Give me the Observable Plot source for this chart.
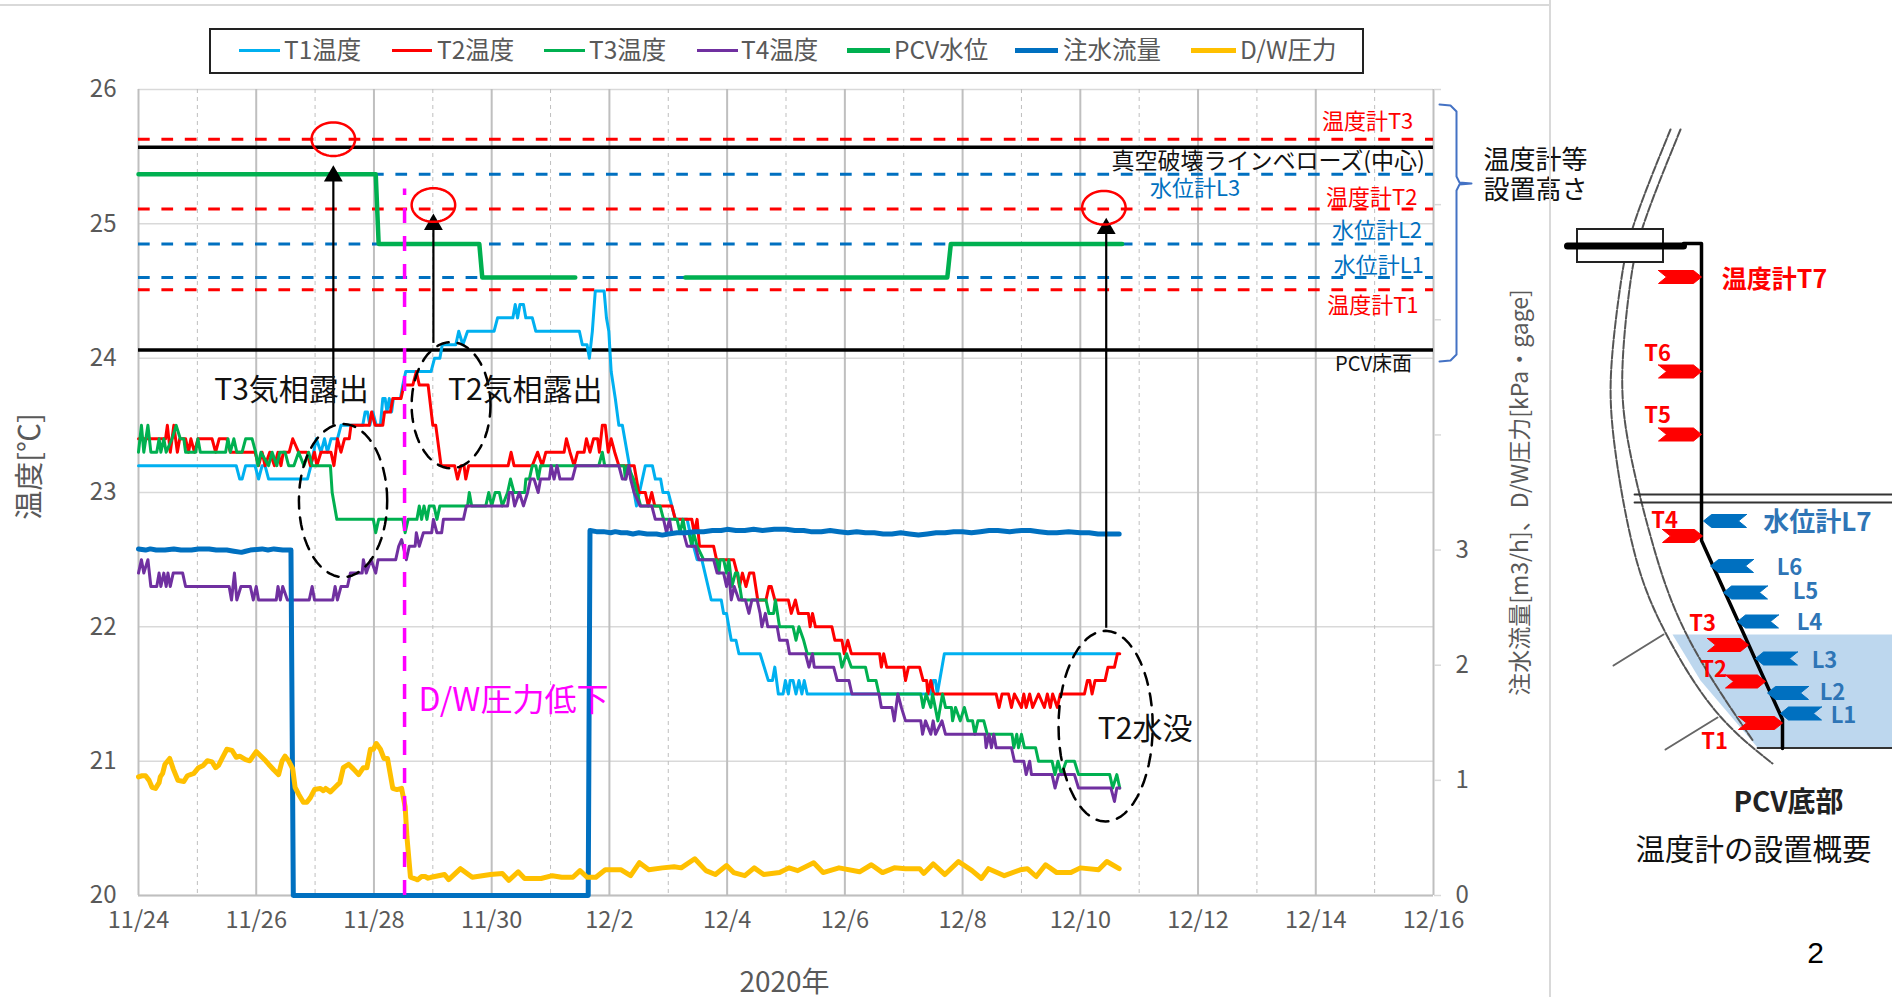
<!DOCTYPE html>
<html lang="ja"><head><meta charset="utf-8">
<script src="https://cdn.jsdelivr.net/npm/d3@7"></script>
<script src="https://cdn.jsdelivr.net/npm/@observablehq/plot@0.6"></script>
<style>
html,body{margin:0;padding:0;background:#fff;overflow:hidden}
#wrap{position:relative;width:1892px;height:997px;font-family:"Noto Sans CJK JP","Noto Sans",sans-serif}
#wrap>svg{position:absolute;left:0;top:0}
.frame{position:absolute;background:#d9d9d9}
#legend{position:absolute;left:209px;top:28px;width:1151px;height:42px;border:2px solid #222;background:#fff}
#legend span{position:absolute;top:0;line-height:38px;font-size:24.5px;color:#595959;white-space:nowrap}
#legend i{position:absolute;display:block}
</style></head><body><div id="wrap"></div>
<script>
const xLabels=["11/24","11/26","11/28","11/30","12/2","12/4","12/6","12/8","12/10","12/12","12/14","12/16"];
// Day offsets since 11/24, temperature in degC
const t1=[[0,23.2],[1.66,23.2],[1.72,23.1],[1.76,23.1],[1.82,23.2],[1.98,23.2],[2.04,23.1],[2.1,23.2],[2.15,23.2],[2.21,23.1],[2.87,23.1],[2.93,23.2],[3.02,23.4],[3.1,23.3],[3.16,23.4],[3.21,23.3],[3.27,23.4],[3.38,23.4],[3.44,23.5],[3.81,23.5],[3.85,23.6],[3.89,23.6],[3.93,23.5],[3.98,23.6],[4.04,23.5],[4.11,23.5],[4.15,23.7],[4.19,23.7],[4.22,23.6],[4.26,23.7],[4.3,23.6],[4.33,23.7],[4.45,23.7],[4.49,23.8],[4.54,23.9],[4.97,23.9],[5.03,24],[5.12,24],[5.16,24.1],[5.39,24.1],[5.44,24.2],[5.51,24.1],[5.59,24.2],[6.04,24.2],[6.1,24.3],[6.36,24.3],[6.4,24.4],[6.44,24.3],[6.48,24.4],[6.54,24.4],[6.58,24.3],[6.69,24.3],[6.75,24.2],[7.49,24.2],[7.54,24.1],[7.62,24.1],[7.66,24],[7.71,24.2],[7.76,24.5],[7.91,24.5],[7.95,24.3],[7.99,24.2],[8.03,23.9],[8.1,23.7],[8.16,23.5],[8.22,23.5],[8.46,22.9],[8.61,23.2],[8.73,23.2],[8.78,23.1],[8.87,23.1],[8.91,23],[9,23],[9.12,22.8],[9.32,22.8],[9.37,22.7],[9.49,22.5],[9.57,22.5],[9.73,22.2],[9.9,22.2],[9.94,22.1],[9.99,22.1],[10.07,21.9],[10.15,21.9],[10.2,21.8],[10.56,21.8],[10.63,21.7],[10.7,21.6],[10.77,21.6],[10.81,21.7],[10.87,21.5],[10.95,21.5],[10.99,21.6],[11.04,21.5],[11.07,21.6],[11.12,21.6],[11.17,21.5],[11.22,21.6],[11.27,21.5],[11.31,21.6],[11.36,21.5],[13.46,21.5],[13.5,21.6],[13.54,21.6],[13.57,21.5],[13.69,21.8],[16.61,21.8]];
const t2=[[0,23.4],[.46,23.4],[.49,23.5],[.54,23.3],[.6,23.5],[.66,23.3],[.7,23.4],[.8,23.4],[.85,23.3],[.89,23.4],[.95,23.3],[1.01,23.4],[1.25,23.4],[1.31,23.3],[1.37,23.4],[1.5,23.4],[1.56,23.3],[1.98,23.3],[2.04,23.2],[2.1,23.3],[2.15,23.2],[2.23,23.3],[2.31,23.2],[2.37,23.3],[2.42,23.2],[2.46,23.3],[2.56,23.3],[2.62,23.4],[2.72,23.3],[2.86,23.3],[2.92,23.2],[2.99,23.3],[3.03,23.2],[3.1,23.3],[3.27,23.3],[3.32,23.2],[3.38,23.4],[3.44,23.3],[3.5,23.4],[3.58,23.4],[3.61,23.5],[3.92,23.5],[3.96,23.6],[4.02,23.5],[4.15,23.5],[4.18,23.6],[4.28,23.6],[4.32,23.7],[4.46,23.7],[4.51,23.8],[4.66,23.8],[4.72,23.9],[4.77,23.8],[4.92,23.8],[5,23.5],[5.05,23.5],[5.14,23.2],[5.37,23.2],[5.42,23.1],[5.48,23.2],[5.53,23.2],[5.56,23.1],[5.61,23.2],[6.28,23.2],[6.33,23.3],[6.38,23.2],[6.69,23.2],[6.78,23.3],[6.86,23.2],[6.92,23.3],[7.23,23.3],[7.27,23.4],[7.33,23.3],[7.4,23.2],[7.46,23.3],[7.57,23.3],[7.61,23.4],[7.67,23.3],[7.73,23.4],[7.8,23.4],[7.83,23.3],[7.88,23.5],[7.93,23.5],[7.98,23.3],[8.03,23.4],[8.09,23.3],[8.16,23.2],[8.42,23.2],[8.5,23],[8.61,23],[8.66,22.9],[8.72,23],[8.77,22.9],[9.06,22.9],[9.12,22.8],[9.4,22.8],[9.44,22.7],[9.49,22.8],[9.53,22.6],[9.77,22.6],[9.82,22.5],[10.11,22.5],[10.17,22.4],[10.21,22.3],[10.26,22.4],[10.32,22.3],[10.38,22.4],[10.45,22.4],[10.52,22.2],[10.66,22.2],[10.71,22.3],[10.75,22.3],[10.81,22.2],[11.04,22.2],[11.09,22.1],[11.16,22.2],[11.21,22.1],[11.38,22.1],[11.41,22],[11.45,22.1],[11.5,22],[11.78,22],[11.83,21.9],[11.95,21.9],[11.99,21.8],[12.05,21.9],[12.11,21.8],[12.59,21.8],[12.62,21.7],[12.66,21.8],[12.71,21.7],[13,21.7],[13.03,21.6],[13.08,21.7],[13.27,21.7],[13.33,21.6],[13.39,21.6],[13.41,21.5],[13.46,21.6],[13.51,21.5],[14.57,21.5],[14.62,21.4],[14.67,21.5],[14.78,21.5],[14.83,21.4],[14.88,21.5],[15,21.4],[15.04,21.5],[15.08,21.4],[15.14,21.5],[15.19,21.4],[15.29,21.5],[15.39,21.4],[15.44,21.5],[15.49,21.4],[15.53,21.5],[15.61,21.4],[15.66,21.5],[16.07,21.5],[16.12,21.6],[16.16,21.6],[16.2,21.5],[16.25,21.6],[16.42,21.6],[16.47,21.7],[16.58,21.7],[16.63,21.8],[16.67,21.8]];
const t3=[[0,23.3],[.05,23.5],[.09,23.3],[.16,23.5],[.21,23.3],[.31,23.3],[.35,23.4],[.38,23.3],[.43,23.4],[.47,23.3],[.57,23.4],[.64,23.5],[.71,23.4],[.77,23.4],[.8,23.3],[.97,23.3],[1.01,23.4],[1.05,23.3],[1.48,23.3],[1.52,23.4],[1.56,23.3],[1.62,23.4],[1.67,23.3],[1.76,23.3],[1.82,23.4],[1.93,23.4],[1.99,23.3],[2.03,23.2],[2.08,23.3],[2.21,23.2],[2.27,23.3],[2.35,23.2],[2.4,23.3],[2.49,23.3],[2.55,23.2],[2.64,23.2],[2.72,23.3],[2.81,23.2],[2.89,23.3],[2.95,23.2],[3.26,23.2],[3.29,23],[3.37,22.8],[3.99,22.8],[4.03,22.7],[4.08,22.8],[4.49,22.8],[4.53,22.7],[4.58,22.8],[4.73,22.8],[4.77,22.9],[4.81,22.8],[4.85,22.9],[4.9,22.8],[4.94,22.9],[5.02,22.9],[5.07,22.8],[5.12,22.9],[5.59,22.9],[5.62,23],[5.66,22.9],[5.9,22.9],[5.95,23],[6,22.9],[6.06,23],[6.13,23],[6.18,22.9],[6.27,23],[6.32,23.1],[6.38,23],[6.56,23],[6.58,23.1],[6.64,23.1],[6.69,23.2],[6.75,23.2],[6.79,23.1],[6.83,23.2],[7.82,23.2],[7.88,23.3],[7.92,23.2],[8.25,23.2],[8.27,23.1],[8.31,23.2],[8.41,23.1],[8.53,22.9],[8.86,22.9],[8.92,22.8],[9.15,22.8],[9.2,22.7],[9.25,22.8],[9.29,22.7],[9.35,22.7],[9.4,22.6],[9.43,22.7],[9.49,22.6],[9.6,22.5],[9.82,22.5],[9.86,22.4],[9.88,22.5],[9.94,22.5],[9.99,22.4],[10.03,22.5],[10.08,22.3],[10.14,22.4],[10.18,22.4],[10.25,22.2],[10.66,22.2],[10.71,22.1],[10.79,22.1],[10.82,22.2],[10.89,22],[11.12,22],[11.17,21.9],[11.22,22],[11.3,21.9],[11.36,21.8],[11.91,21.8],[11.95,21.7],[12.03,21.8],[12.11,21.7],[12.35,21.7],[12.4,21.6],[12.53,21.6],[12.58,21.5],[13.29,21.5],[13.33,21.4],[13.38,21.5],[13.46,21.4],[13.49,21.5],[13.58,21.3],[13.66,21.5],[13.71,21.4],[13.81,21.4],[13.83,21.3],[13.88,21.4],[13.96,21.3],[14.03,21.4],[14.09,21.3],[14.17,21.3],[14.21,21.2],[14.26,21.3],[14.36,21.3],[14.42,21.2],[14.84,21.2],[14.87,21.1],[14.92,21.2],[14.95,21.1],[15,21.2],[15.05,21.1],[15.24,21.1],[15.29,21],[15.52,21],[15.57,20.9],[15.62,21],[15.68,20.9],[15.76,21],[15.9,21],[15.97,20.9],[16.5,20.9],[16.55,20.8],[16.62,20.9],[16.67,20.8]];
const t4=[[0,22.4],[.05,22.5],[.09,22.4],[.16,22.5],[.21,22.3],[.31,22.3],[.35,22.4],[.38,22.3],[.43,22.4],[.47,22.3],[.5,22.4],[.54,22.3],[.59,22.4],[.75,22.4],[.8,22.3],[1.54,22.3],[1.58,22.2],[1.63,22.4],[1.67,22.2],[1.74,22.3],[1.9,22.3],[1.95,22.2],[2,22.3],[2.04,22.2],[2.34,22.2],[2.37,22.3],[2.41,22.2],[2.45,22.3],[2.53,22.2],[2.9,22.2],[2.95,22.3],[2.99,22.2],[3.3,22.2],[3.34,22.3],[3.38,22.2],[3.44,22.3],[3.55,22.3],[3.6,22.4],[3.8,22.4],[3.82,22.5],[3.87,22.4],[3.95,22.5],[4.03,22.4],[4.07,22.5],[4.37,22.5],[4.42,22.6],[4.47,22.65],[4.55,22.5],[4.6,22.6],[4.7,22.6],[4.72,22.7],[4.77,22.6],[4.84,22.7],[4.98,22.7],[5.01,22.8],[5.07,22.7],[5.15,22.7],[5.18,22.8],[5.52,22.8],[5.57,22.9],[6.27,22.9],[6.3,23],[6.35,23],[6.39,22.9],[6.47,23],[6.54,22.9],[6.61,23],[6.66,23.1],[6.72,23.1],[6.79,23],[6.83,23.1],[6.98,23.1],[7.01,23.2],[7.06,23.1],[7.11,23.2],[7.16,23.1],[7.37,23.1],[7.43,23.2],[8.16,23.2],[8.22,23.1],[8.28,23.1],[8.33,23.2],[8.36,23.1],[8.42,23],[8.52,22.9],[8.72,22.9],[8.78,22.8],[8.92,22.8],[8.97,22.7],[9.02,22.8],[9.06,22.7],[9.26,22.7],[9.32,22.6],[9.46,22.6],[9.52,22.5],[9.77,22.5],[9.83,22.4],[9.94,22.4],[9.99,22.3],[10.03,22.4],[10.07,22.2],[10.12,22.3],[10.2,22.2],[10.31,22.2],[10.37,22.1],[10.42,22.2],[10.51,22.2],[10.56,22.1],[10.59,22],[10.65,22.1],[10.69,22],[10.85,22],[10.89,21.9],[11.02,21.9],[11.06,21.8],[11.33,21.8],[11.39,21.7],[11.45,21.8],[11.48,21.7],[11.81,21.7],[11.87,21.6],[12.07,21.6],[12.12,21.5],[12.58,21.5],[12.62,21.4],[12.8,21.4],[12.84,21.3],[12.9,21.5],[12.96,21.4],[13.03,21.3],[13.29,21.3],[13.32,21.2],[13.37,21.3],[13.46,21.2],[13.5,21.3],[13.54,21.2],[13.65,21.3],[13.71,21.2],[14.38,21.2],[14.4,21.1],[14.45,21.2],[14.49,21.1],[14.53,21.2],[14.57,21.1],[14.83,21.1],[14.88,21],[15.04,21],[15.08,20.9],[15.14,21],[15.17,20.9],[15.52,20.9],[15.57,20.8],[15.63,20.9],[15.9,20.9],[15.97,20.8],[16.52,20.8],[16.58,20.7],[16.62,20.8],[16.67,20.8]];
// PCV water level, plotted on the left axis; null breaks the line
const pcv=[[0,25.37],[4.03,25.37],[4.08,24.85],[5.79,24.85],[5.84,24.6],[7.42,24.6],[7.42,null],[9.29,null],[9.29,24.6],[13.74,24.6],[13.8,24.85],[16.71,24.85]];
// Right axis series: injection flow m3/h and D/W pressure kPa gage
const flow=[[0,3.01],[.12,3],[.2,3.01],[.3,3],[.45,3],[.6,3.01],[.72,3],[.9,3],[1.02,3.01],[1.2,3.01],[1.32,3],[1.5,3],[1.62,2.99],[1.75,2.98],[1.82,2.99],[1.9,3],[2.1,3.01],[2.2,3],[2.3,3.01],[2.45,3],[2.59,3],[2.63,0],[7.64,0],[7.67,3.17],[7.78,3.16],[7.9,3.16],[8.02,3.15],[8.1,3.16],[8.2,3.15],[8.3,3.15],[8.4,3.14],[8.5,3.15],[8.64,3.14],[8.8,3.14],[8.9,3.13],[9,3.14],[9.15,3.15],[9.3,3.15],[9.45,3.16],[9.6,3.16],[9.75,3.17],[9.9,3.17],[10,3.18],[10.15,3.17],[10.3,3.17],[10.45,3.18],[10.6,3.17],[10.8,3.18],[11,3.18],[11.15,3.17],[11.3,3.17],[11.42,3.16],[11.6,3.16],[11.75,3.17],[11.9,3.16],[12.05,3.15],[12.2,3.16],[12.35,3.15],[12.5,3.15],[12.65,3.14],[12.8,3.14],[12.95,3.15],[13.1,3.14],[13.25,3.13],[13.4,3.14],[13.55,3.15],[13.7,3.15],[13.85,3.16],[14,3.16],[14.15,3.15],[14.3,3.16],[14.45,3.17],[14.6,3.17],[14.8,3.16],[15,3.17],[15.15,3.17],[15.3,3.16],[15.45,3.15],[15.6,3.15],[15.8,3.16],[16,3.15],[16.15,3.15],[16.3,3.14],[16.5,3.14],[16.66,3.14]];
const dw=[[0,1.03],[.06,1.04],[.12,1.04],[.18,1],[.23,.94],[.29,.93],[.35,.98],[.37,1.03],[.41,1.06],[.45,1.14],[.53,1.19],[.59,1.1],[.67,1],[.77,.99],[.83,1.04],[.94,1.06],[1.02,1.11],[1.1,1.13],[1.17,1.17],[1.25,1.16],[1.31,1.11],[1.36,1.13],[1.42,1.19],[1.5,1.27],[1.59,1.26],[1.66,1.2],[1.72,1.21],[1.82,1.18],[1.89,1.17],[2,1.25],[2.1,1.2],[2.16,1.17],[2.21,1.14],[2.3,1.09],[2.38,1.05],[2.44,1.17],[2.49,1.21],[2.55,1.17],[2.62,1.1],[2.66,.94],[2.72,.88],[2.8,.81],[2.86,.81],[2.92,.85],[2.99,.92],[3.09,.93],[3.14,.91],[3.18,.93],[3.26,.9],[3.34,.94],[3.42,.98],[3.48,1.11],[3.57,1.14],[3.65,1.1],[3.74,1.05],[3.82,1.11],[3.88,1.11],[3.94,1.27],[3.99,1.27],[4.04,1.32],[4.11,1.27],[4.17,1.19],[4.23,1.19],[4.32,.93],[4.39,.92],[4.47,.93],[4.53,.77],[4.56,.51],[4.62,.16],[4.7,.145],[4.74,.136],[4.81,.165],[4.87,.165],[4.92,.15],[4.97,.158],[5.2,.182],[5.27,.138],[5.47,.233],[5.67,.158],[5.98,.182],[6.18,.192],[6.29,.131],[6.45,.206],[6.56,.148],[6.84,.148],[7.03,.172],[7.19,.158],[7.38,.158],[7.5,.216],[7.62,.158],[7.77,.158],[7.93,.223],[8.2,.223],[8.36,.172],[8.51,.285],[8.67,.223],[8.9,.24],[9.1,.25],[9.22,.24],[9.45,.319],[9.64,.216],[9.8,.182],[9.99,.26],[10.11,.199],[10.3,.172],[10.46,.24],[10.62,.182],[10.89,.199],[11.05,.24],[11.2,.216],[11.47,.285],[11.63,.199],[11.9,.24],[12.25,.206],[12.45,.267],[12.64,.199],[12.84,.24],[13.03,.233],[13.27,.233],[13.34,.192],[13.5,.274],[13.7,.182],[13.93,.295],[14.16,.216],[14.32,.148],[14.44,.233],[14.71,.172],[14.98,.223],[15.1,.233],[15.25,.165],[15.41,.267],[15.6,.199],[15.84,.199],[16,.24],[16.31,.223],[16.45,.295],[16.66,.233]];
const redLevels=[25.63,25.11,24.51];
const blueLevels=[25.37,24.85,24.6];
const blackLevels=[25.57,24.06];
const arrows=[{x:3.31,from:23.5,to:25.41},{x:5.01,from:24.11,to:25.05},{x:16.44,from:21.99,to:25.02}];
const circles=[[3.31,25.63],[5.01,25.14],[16.4,25.12]];
const ellipses=[{x:3.475,y:22.94,rx:.75,ry:.57},{x:5.31,y:23.65,rx:.67,ry:.47},{x:16.43,y:21.26,rx:.8,ry:.71}];
const chartLabels=[
 {x:2.6,y:23.76,t:"T3気相露出",c:"#111",s:30},{x:6.57,y:23.76,t:"T2気相露出",c:"#111",s:30},
 {x:17.1,y:21.24,t:"T2水没",c:"#111",s:30},{x:6.37,y:21.45,t:"D/W圧力低下",c:"#ff00ff",s:32},
 {x:20.88,y:25.76,t:"温度計T3",c:"#ff0000",s:22},{x:19.19,y:25.46,t:"真空破壊ラインベローズ(中心)",c:"#111",s:23},
 {x:17.95,y:25.26,t:"水位計L3",c:"#0070c0",s:22},{x:20.95,y:25.19,t:"温度計T2",c:"#ff0000",s:22},
 {x:21.04,y:24.95,t:"水位計L2",c:"#0070c0",s:22},{x:21.07,y:24.69,t:"水位計L1",c:"#0070c0",s:22},
 {x:20.97,y:24.39,t:"温度計T1",c:"#ff0000",s:22},{x:20.98,y:23.95,t:"PCV床面",c:"#111",s:20}];
const legendItems=[
 {t:"T1温度",c:"#00b0f0",x0:239,x1:280,tx:284,w:3},{t:"T2温度",c:"#ff0000",x0:392,x1:432,tx:437,w:3},
 {t:"T3温度",c:"#00b050",x0:544,x1:585,tx:589,w:3},{t:"T4温度",c:"#7030a0",x0:697,x1:738,tx:741,w:3},
 {t:"PCV水位",c:"#00b050",x0:847,x1:890,tx:894,w:5},{t:"注水流量",c:"#0070c0",x0:1015,x1:1058,tx:1063,w:5},
 {t:"D/W圧力",c:"#ffc000",x0:1191,x1:1236,tx:1240,w:5}];
// Schematic of the thermometer installation, in picture units
const wallOuter=[[1670,129],[1630,227],[1621,273],[1609,367],[1610,430],[1633,564],[1663,632],[1713,716],[1772,763]];
const wallInner=[[1680,129],[1640,227],[1630,273],[1620,367],[1623,430],[1650,540],[1680,634],[1753,741]];
const pipe=[[1683,243],[1701,243],[1701,540],[1782,719],[1782,748]];
const waterArea=[[1672,634],[1892,634],[1892,747],[1757,747],[1700,680]];
const struts=[[[1613,665],[1663,634]],[[1665,749],[1717,717]]];
const floors=[[[1634,494],[1892,494]],[[1634,502],[1892,502]],[[1757,747.5],[1892,747.5]]];
const redFlags=[[1658,1701,276.5],[1658,1701,371],[1658,1701,434],[1662,1702,535.5],[1707,1748,644.5],[1725,1765,681],[1738,1782,722.5]];
const blueFlags=[[1703,1746,520.5],[1710,1753,565.5],[1723,1767,592],[1737,1778,621],[1755,1797,658],[1767,1808,692.5],[1780,1821,713]];
const boldLabels=[
 {x:1774,y:279,t:"温度計T7",c:"#ff0000",s:25},{x:1657,y:353,t:"T6",c:"#ff0000",s:22},{x:1657,y:415,t:"T5",c:"#ff0000",s:22},
 {x:1664,y:520,t:"T4",c:"#ff0000",s:22},{x:1702,y:623,t:"T3",c:"#ff0000",s:22},{x:1713,y:669,t:"T2",c:"#ff0000",s:22},{x:1714,y:741,t:"T1",c:"#ff0000",s:22},
 {x:1817,y:522,t:"水位計L7",c:"#2e75b6",s:26},{x:1789,y:567,t:"L6",c:"#2e75b6",s:22},{x:1805,y:591,t:"L5",c:"#2e75b6",s:22},{x:1809,y:622,t:"L4",c:"#2e75b6",s:22},
 {x:1824,y:660,t:"L3",c:"#2e75b6",s:22},{x:1832,y:692,t:"L2",c:"#2e75b6",s:22},{x:1843,y:715,t:"L1",c:"#2e75b6",s:22},
 {x:1788,y:803,t:"PCV底部",c:"#222",s:28}];
const plainLabels=[
 {x:1753,y:850,t:"温度計の設置概要",c:"#111",s:29.5},
 {x:1535,y:160,t:"温度計等",c:"#111",s:26},{x:1535,y:190,t:"設置高さ",c:"#111",s:26},
 {x:784,y:983,t:"2020年",c:"#595959",s:28}];
const brace=[[1439,104],[1450,105],[1456,111],[1456,176],[1459,182],[1471,183],[1459,184],[1456,190],[1456,354],[1450,360],[1439,361]];

const font='"Noto Sans CJK JP","Noto Sans",sans-serif';
const wrap=document.getElementById("wrap");
const toLeft=v=>20+v*6/7;
const solidDays=d3.range(0,23,2), dashDays=d3.range(1,23,2);
const line=(data,stroke,strokeWidth,extra={})=>Plot.line(data,{x:d=>d[0],y:d=>d[1],stroke,strokeWidth,...extra});
const leftLine=(data,stroke,w)=>Plot.line(data,{x:d=>d[0],y:d=>toLeft(d[1]),stroke,strokeWidth:w});
const oval=(e)=>d3.range(0,61).map(i=>[e.x+e.rx*Math.cos(i/60*2*Math.PI),e.y+e.ry*Math.sin(i/60*2*Math.PI)]);

const main=Plot.plot({
 width:1892,height:997,marginLeft:138,marginRight:459,marginTop:89,marginBottom:102,
 style:{fontFamily:font,fontSize:"22px",background:"transparent",overflow:"visible"},
 x:{domain:[0,22]},y:{domain:[20,26]},
 marks:[
  Plot.ruleY(d3.range(20,27),{stroke:"#d9d9d9",strokeWidth:1.5}),
  Plot.ruleX(dashDays,{stroke:"#bfbfbf",strokeWidth:1,strokeDasharray:"4,4"}),
  Plot.ruleX(solidDays,{stroke:"#bfbfbf",strokeWidth:2}),
  Plot.ruleY([20],{stroke:"#bfbfbf",strokeWidth:2}),
  Plot.axisX({ticks:solidDays,tickFormat:d=>xLabels[d/2],tickSize:0,tickPadding:16,label:null,fill:"#595959",fontSize:23.5}),
  Plot.axisY({ticks:d3.range(20,27),tickFormat:d=>String(d),tickSize:0,tickPadding:22,label:null,fill:"#595959",fontSize:24}),
  Plot.axisY({anchor:"right",ticks:d3.range(0,8).map(toLeft),tickFormat:()=>"",tickSize:7,label:null,stroke:"#d9d9d9",strokeWidth:1.5}),
  Plot.axisY({anchor:"right",ticks:d3.range(0,4).map(toLeft),tickFormat:d=>Math.round((d-20)*7/6),tickSize:0,tickPadding:22,label:null,fill:"#595959",fontSize:24}),
  Plot.ruleY(redLevels,{stroke:"#ff0000",strokeWidth:3,strokeDasharray:"11.7,11.7"}),
  Plot.ruleY(blueLevels,{stroke:"#0070c0",strokeWidth:3,strokeDasharray:"11.7,11.7"}),
  Plot.ruleY(blackLevels,{stroke:"#000",strokeWidth:3.5}),
  line(t1,"#00b0f0",3),line(t2,"#ff0000",3),line(t3,"#00b050",3),line(t4,"#7030a0",3),
  Plot.line(pcv,{x:d=>d[0],y:d=>d[1],stroke:"#00b050",strokeWidth:4.5,defined:d=>d[1]!=null}),
  leftLine(flow,"#0070c0",5),leftLine(dw,"#ffc000",5),
  Plot.ruleX([4.52],{y1:20,y2:25.26,stroke:"#ff00ff",strokeWidth:3.5,strokeDasharray:"15,13"}),
  Plot.ruleX(arrows,{x:"x",y1:"from",y2:"to",stroke:"#000",strokeWidth:2.2}),
  Plot.dot(arrows,{x:"x",y:d=>d.to-0.055,symbol:"triangle",r:7,fill:"#000",stroke:"none"}),
  ...circles.map(c=>line(oval({x:c[0],y:c[1],rx:.37,ry:.125}),"#ff0000",2.5)),
  ...ellipses.map(e=>line(oval(e),"#000",2.5,{strokeDasharray:"12,9"})),
  Plot.text(chartLabels,{x:"x",y:"y",text:"t",fill:"c",fontSize:"s"})
 ]});
wrap.appendChild(main);

const flag=(f,dir)=>{const[a,b,y]=f,h=6.5,n=8;return dir>0?[[a,y-h],[b-n,y-h],[b,y],[b-n,y+h],[a,y+h],[a+n,y],[a,y-h]]:[[b,y-h],[a+n,y-h],[a,y],[a+n,y+h],[b,y+h],[b-n,y],[b,y-h]];};
const overlay=Plot.plot({
 width:1892,height:997,margin:0,axis:null,
 style:{fontFamily:font,background:"transparent",overflow:"visible",pointerEvents:"none"},
 x:{domain:[0,1892],range:[0,1892]},y:{domain:[0,997],range:[0,997]},
 marks:[
  line(brace,"#4472c4",2,{curve:"linear"}),
  line(waterArea.concat([waterArea[0]]),"none",0,{fill:"#bdd7ee"}),
  line(wallOuter,"#555",2,{curve:"basis",strokeDasharray:"8,2"}),
  line(wallInner,"#555",2,{curve:"basis",strokeDasharray:"8,2"}),
  ...floors.map(f=>line(f,"#333",1.8)),
  ...struts.map(s=>line(s,"#666",2)),
  line(pipe,"#000",3.5),
  Plot.rect([[1577,229,1663,262]],{x1:d=>d[0],y1:d=>d[1],x2:d=>d[2],y2:d=>d[3],fill:"#fff",stroke:"#222",strokeWidth:2}),
  line([[1567,245.5],[1683,245.5]],"#000",7),
  ...redFlags.map(f=>line(flag(f,1),"#ff0000",1,{fill:"#ff0000"})),
  ...blueFlags.map(f=>line(flag(f,-1),"#0070c0",1,{fill:"#0070c0"})),
  Plot.text(boldLabels,{x:"x",y:"y",text:"t",fill:"c",fontSize:"s",fontWeight:700}),
  Plot.text(plainLabels,{x:"x",y:"y",text:"t",fill:"c",fontSize:"s"}),
  Plot.text([{t:"2"}],{x:()=>1815,y:()=>953,text:"t",fontSize:30,fill:"#000",fontFamily:"Liberation Sans"}),
  Plot.text([{t:"温度[℃]"}],{x:()=>30,y:()=>466,text:"t",rotate:-90,fontSize:29,fill:"#595959"}),
  Plot.text([{t:"注水流量[m3/h]、D/W圧力[kPa・gage]"}],{x:()=>1520,y:()=>492,text:"t",rotate:-90,fontSize:23,fill:"#595959"})
 ]});
wrap.appendChild(overlay);

const addDiv=(cls,css)=>{const d=document.createElement("div");d.className=cls;d.style.cssText=css;wrap.appendChild(d);return d;};
addDiv("frame","left:0;top:4px;width:1549px;height:2px");
addDiv("frame","left:1549px;top:0;width:1.5px;height:997px");
const lg=document.createElement("div");lg.id="legend";wrap.appendChild(lg);
const bx=211;
legendItems.forEach(it=>{
 const i=document.createElement("i");
 i.style.cssText=`left:${it.x0-bx}px;width:${it.x1-it.x0}px;top:${20-it.w/2}px;height:${it.w}px;background:${it.c}`;lg.appendChild(i);
 const s=document.createElement("span");s.textContent=it.t;s.style.left=(it.tx-bx)+"px";lg.appendChild(s);
});
</script></body></html>
